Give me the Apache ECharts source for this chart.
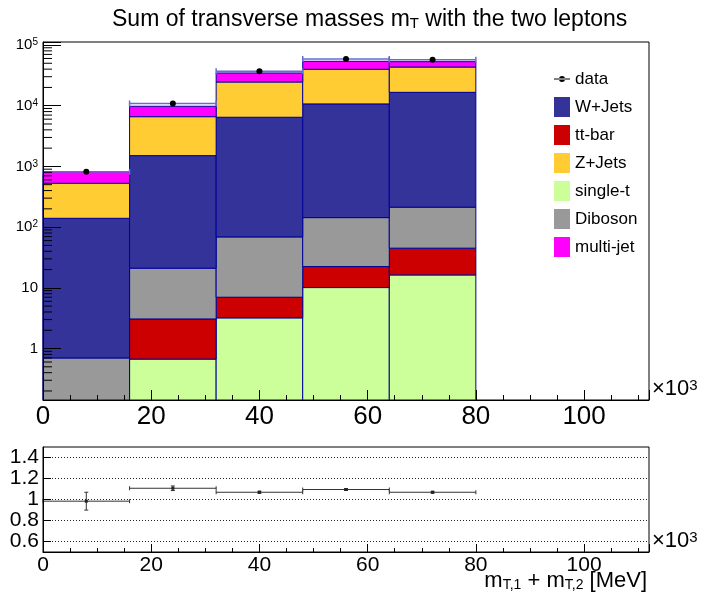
<!DOCTYPE html>
<html>
<head>
<meta charset="utf-8">
<script src="https://cdn.jsdelivr.net/npm/echarts@6/dist/echarts.min.js"></script>
<style>
html, body { margin: 0; padding: 0; background: #fff; }
#chart { width: 711px; height: 614px; }
</style>
</head>
<body>
<div id="chart"></div>
<script>
// bins, in units of 10^3 MeV
var binLow  = [0, 16, 32, 48, 64];
var binHigh = [16, 32, 48, 64, 80];

// stack contributions per bin (bottom to top of the stack)
var singleT  = [0,    0.67, 3.2,   10.1,  16.3];
var ttbar    = [0,    2.4,  3.8,   12.3,  28.7];
var diboson  = [0.70, 18,   62,    121,   168];
var wJets    = [139,  1485, 6380,  10560, 16390];
var zJets    = [388,  5090, 18150, 29100, 26800];
var multiJet = [292,  3190, 10000, 14100, 9700];

var dataVals = [813, 10870, 37000, 58900, 57300];

// lower pad: data / MC
var ratioVals = [0.984, 1.107, 1.069, 1.095, 1.069];
var ratioErr  = [0.085, 0.022, 0.010, 0.009, 0.009];

var ratioTicks = [0.6, 0.8, 1.0, 1.2, 1.4];
var legendOrder = ['W+Jets', 'tt-bar', 'Z+Jets', 'single-t', 'Diboson', 'multi-jet'];

var FONT = 'Liberation Sans';
var OUTLINE = '#000099';
var yMin = 0.142, yMax = 112000;

var chart = echarts.init(document.getElementById('chart'));

function boxItem(params, api) {
    var a = api.coord([api.value(0), api.value(3)]);
    var b = api.coord([api.value(1), api.value(2)]);
    return {
        type: 'rect',
        shape: { x: a[0], y: a[1], width: b[0] - a[0], height: b[1] - a[1] },
        style: { fill: api.visual('color'), stroke: OUTLINE, lineWidth: 1 }
    };
}

var stackDefs = [
    ['single-t', singleT, '#ccff99'],
    ['tt-bar', ttbar, '#cc0000'],
    ['Diboson', diboson, '#999999'],
    ['W+Jets', wJets, '#333399'],
    ['Z+Jets', zJets, '#ffcc33'],
    ['multi-jet', multiJet, '#ff00ff']
];

var series = [];
var cum = binLow.map(function () { return 0; });
stackDefs.forEach(function (d) {
    var rows = [];
    for (var i = 0; i < binLow.length; i++) {
        var lo = cum[i], hi = cum[i] + d[1][i];
        cum[i] = hi;
        if (d[1][i] <= 0) continue;
        rows.push([binLow[i], binHigh[i], Math.max(lo, yMin), hi]);
    }
    series.push({
        type: 'custom', name: d[0], xAxisIndex: 0, yAxisIndex: 0,
        itemStyle: { color: d[2] },
        encode: { x: [0, 1], y: [2, 3] },
        renderItem: boxItem,
        data: rows
    });
});

// data points with horizontal bin-width bars
series.push({
    type: 'custom', name: 'data', xAxisIndex: 0, yAxisIndex: 0, z: 4,
    itemStyle: { color: '#000' },
    encode: { x: [0, 1], y: 2 },
    data: binLow.map(function (x, i) { return [x, binHigh[i], dataVals[i]]; }),
    renderItem: function (params, api) {
        var y = api.value(2);
        var a = api.coord([api.value(0), y]);
        var b = api.coord([api.value(1), y]);
        var c = api.coord([(api.value(0) + api.value(1)) / 2, y]);
        var ln = { stroke: '#6a6ad2', lineWidth: 1.5 };
        return {
            type: 'group', children: [
                { type: 'line', shape: { x1: a[0], y1: a[1], x2: b[0], y2: b[1] }, style: ln },
                { type: 'line', shape: { x1: a[0], y1: a[1] - 3, x2: a[0], y2: a[1] + 3 }, style: ln },
                { type: 'line', shape: { x1: b[0], y1: b[1] - 3, x2: b[0], y2: b[1] + 3 }, style: ln },
                { type: 'circle', shape: { cx: c[0], cy: c[1], r: 3 }, style: { fill: '#000' } }
            ]
        };
    }
});

// log minor ticks on the left axis (2..9 x 10^n)
var minorVals = [];
for (var e = -1; e <= 4; e++) {
    for (var k = 2; k <= 9; k++) {
        var v = k * Math.pow(10, e);
        if (v > yMin && v < yMax) minorVals.push([0, v]);
    }
}
series.push({
    type: 'custom', silent: true, xAxisIndex: 0, yAxisIndex: 0, z: 6,
    data: minorVals,
    encode: { x: 0, y: 1 },
    renderItem: function (params, api) {
        var c = api.coord([api.value(0), api.value(1)]);
        return { type: 'line', shape: { x1: c[0], y1: c[1], x2: c[0] + 9, y2: c[1] }, style: { stroke: '#000', lineWidth: 1 } };
    }
});

// ratio pad
series.push({
    type: 'custom', name: 'ratio', xAxisIndex: 2, yAxisIndex: 1,
    encode: { x: [0, 1], y: 2 },
    data: binLow.map(function (x, i) { return [x, binHigh[i], ratioVals[i], ratioErr[i]]; }),
    renderItem: function (params, api) {
        var x0 = api.value(0), x1 = api.value(1), r = api.value(2), er = api.value(3);
        var xm = (x0 + x1) / 2;
        var a = api.coord([x0, r]), b = api.coord([x1, r]);
        var up = api.coord([xm, r + er]), dn = api.coord([xm, r - er]);
        var st = { stroke: '#333', lineWidth: 1 };
        return {
            type: 'group', children: [
                { type: 'line', shape: { x1: a[0], y1: a[1], x2: b[0], y2: b[1] }, style: st },
                { type: 'line', shape: { x1: a[0], y1: a[1] - 2, x2: a[0], y2: a[1] + 2 }, style: st },
                { type: 'line', shape: { x1: b[0], y1: b[1] - 2, x2: b[0], y2: b[1] + 2 }, style: st },
                { type: 'line', shape: { x1: up[0], y1: up[1], x2: dn[0], y2: dn[1] }, style: st },
                { type: 'line', shape: { x1: up[0] - 2, y1: up[1], x2: up[0] + 2, y2: up[1] }, style: st },
                { type: 'line', shape: { x1: dn[0] - 2, y1: dn[1], x2: dn[0] + 2, y2: dn[1] }, style: st },
                { type: 'rect', shape: { x: up[0] - 1.5, y: a[1] - 1.5, width: 3, height: 3 }, style: { fill: '#222' } }
            ]
        };
    },
    markLine: {
        silent: true, symbol: ['none', 'none'], animation: false,
        label: { show: false },
        lineStyle: { type: [1, 2], color: '#222', width: 1 },
        data: ratioTicks.map(function (t) { return { yAxis: t }; })
    }
});

var axLine = { show: true, lineStyle: { color: '#000', width: 1 } };

function xMajor(grid, fs, tickLen, labelMargin) {
    return {
        type: 'value', gridIndex: grid, min: 0, max: 112, interval: 20, position: 'bottom', z: 10,
        axisLine: axLine,
        axisTick: { show: true, inside: true, length: tickLen, lineStyle: { color: '#000' } },
        splitLine: { show: false },
        axisLabel: {
            fontSize: fs, fontFamily: FONT, color: '#000', margin: labelMargin,
            formatter: function (v) { return v % 20 === 0 ? String(v) : ''; }
        },
        name: '×10{sup|3}', nameLocation: 'end', nameGap: 3,
        nameTextStyle: { fontSize: 22, fontFamily: FONT, color: '#000', align: 'left', verticalAlign: 'bottom', rich: { sup: { fontSize: 15, verticalAlign: 'top', fontFamily: FONT, color: '#000' } } }
    };
}
function xMinor(grid, tickLen) {
    return {
        type: 'value', gridIndex: grid, min: 0, max: 112, interval: 5, position: 'bottom', z: 10,
        axisLine: { show: false },
        axisTick: { show: true, inside: true, length: tickLen, lineStyle: { color: '#000' } },
        splitLine: { show: false },
        axisLabel: { show: false }
    };
}

var option = {
    animation: false,
    backgroundColor: '#fff',
    title: {
        text: 'Sum of transverse masses m{sub|T} with the two leptons',
        left: 107, top: 3,
        textStyle: {
            fontSize: 23, fontWeight: 'normal', fontFamily: FONT, color: '#000',
            rich: { sub: { fontSize: 15, verticalAlign: 'bottom', fontFamily: FONT, color: '#000' } }
        }
    },
    legend: {
        orient: 'vertical', left: 549, top: 64,
        itemWidth: 16, itemHeight: 20, itemGap: 8,
        icon: 'rect',
        itemStyle: { borderWidth: 0 },
        textStyle: { fontSize: 17, fontFamily: FONT, color: '#000' },
        data: [{
            name: 'data',
            icon: 'path://M0,0h0.1v0.1h-0.1z M0,9.5h16v1h-16z M5,10a3,3 0 1,0 6,0a3,3 0 1,0 -6,0z M16,20h-0.1v-0.1h0.1z',
            itemStyle: { color: '#000', borderWidth: 0 }
        }].concat(legendOrder)
    },
    grid: [
        { left: 43, right: 62, top: 42, bottom: 214, show: true, borderColor: '#000', borderWidth: 1, backgroundColor: 'transparent', containLabel: false, outerBoundsMode: 'none' },
        { left: 43, right: 62, top: 447, bottom: 62, show: true, borderColor: '#000', borderWidth: 1, backgroundColor: 'transparent', containLabel: false, outerBoundsMode: 'none' }
    ],
    xAxis: [
        xMajor(0, 26, 10, 4),
        xMinor(0, 5),
        xMajor(1, 21, 8, 3),
        xMinor(1, 4)
    ],
    yAxis: [
        {
            type: 'log', logBase: 10, gridIndex: 0, min: yMin, max: yMax, z: 10,
            axisLine: axLine,
            axisTick: { show: true, inside: true, length: 18, lineStyle: { color: '#000' } },
            splitLine: { show: false },
            minorTick: { show: false },
            axisLabel: {
                fontSize: 15, fontFamily: FONT, color: '#000', margin: 5,
                rich: { sup: { fontSize: 10, verticalAlign: 'top', fontFamily: FONT, color: '#000' } },
                formatter: function (v) {
                    var lg = Math.log10(v), p = Math.round(lg);
                    if (Math.abs(lg - p) > 1e-6) return '';
                    if (p === 0) return '1';
                    if (p === 1) return '10';
                    return '10{sup|' + p + '}';
                }
            }
        },
        {
            type: 'value', gridIndex: 1, min: 0.5, max: 1.5, z: 10,
            axisLine: axLine,
            axisTick: { show: true, inside: true, length: 8, customValues: ratioTicks, lineStyle: { color: '#000' } },
            splitLine: { show: false },
            axisLabel: {
                fontSize: 21, fontFamily: FONT, color: '#000', margin: 4, customValues: ratioTicks,
                formatter: function (v) { return String(+v.toFixed(1)); }
            }
        }
    ],
    graphic: [{
        type: 'text', right: 64, top: 570,
        style: {
            text: 'm{sub|T,1} + m{sub|T,2} [MeV]',
            fontSize: 22, fontFamily: FONT, fill: '#000',
            rich: { sub: { fontSize: 14, verticalAlign: 'bottom', fontFamily: FONT, fill: '#000' } }
        }
    }],
    series: series
};

chart.setOption(option);
</script>
</body>
</html>
